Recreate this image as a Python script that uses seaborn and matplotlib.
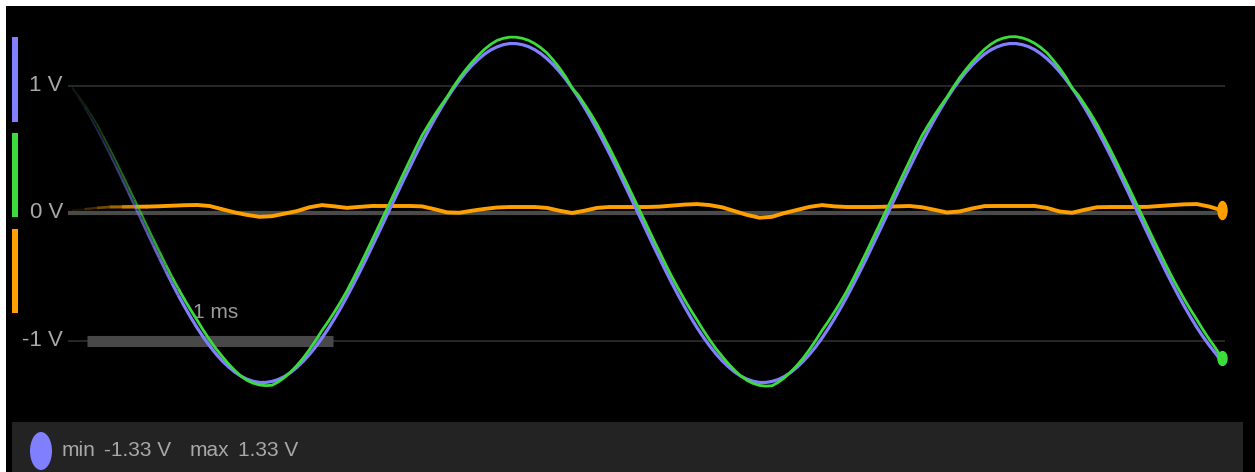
import numpy as np
import matplotlib
matplotlib.use("Agg")
import matplotlib.pyplot as plt
import matplotlib.colors as mcolors
import seaborn as sns
from matplotlib.patches import Rectangle, Ellipse
from matplotlib.collections import LineCollection
from matplotlib.markers import MarkerStyle
from matplotlib.transforms import Affine2D

W, H = 1255, 472

# sample times (ms): fine grid for the two sine channels, coarser for the ripple
t_sine = np.round(np.arange(185) * 0.025, 3)
t_ripple = np.round(np.arange(93) * 0.05, 2)

ch1_blue = [
    0.981, 0.907, 0.828, 0.744, 0.655, 0.562, 0.466, 0.367, 0.265, 0.162,
    0.058, -0.046, -0.151, -0.254, -0.355, -0.455, -0.552, -0.645, -0.734, -0.819,
    -0.899, -0.973, -1.041, -1.103, -1.158, -1.205, -1.246, -1.279, -1.303, -1.320,
    -1.329, -1.329, -1.321, -1.306, -1.282, -1.250, -1.210, -1.163, -1.109, -1.048,
    -0.981, -0.907, -0.828, -0.744, -0.655, -0.562, -0.466, -0.367, -0.265, -0.162,
    -0.058, 0.046, 0.151, 0.254, 0.355, 0.455, 0.552, 0.645, 0.734, 0.819,
    0.899, 0.973, 1.041, 1.103, 1.158, 1.205, 1.246, 1.279, 1.303, 1.320,
    1.329, 1.329, 1.321, 1.306, 1.282, 1.250, 1.210, 1.163, 1.109, 1.048,
    0.981, 0.907, 0.828, 0.744, 0.655, 0.562, 0.466, 0.367, 0.265, 0.162,
    0.058, -0.046, -0.151, -0.254, -0.355, -0.455, -0.552, -0.645, -0.734, -0.819,
    -0.899, -0.973, -1.041, -1.103, -1.158, -1.205, -1.246, -1.279, -1.303, -1.320,
    -1.329, -1.329, -1.321, -1.306, -1.282, -1.250, -1.210, -1.163, -1.109, -1.048,
    -0.981, -0.907, -0.828, -0.744, -0.655, -0.562, -0.466, -0.367, -0.265, -0.162,
    -0.058, 0.046, 0.151, 0.254, 0.355, 0.455, 0.552, 0.645, 0.734, 0.819,
    0.899, 0.973, 1.041, 1.103, 1.158, 1.205, 1.246, 1.279, 1.303, 1.320,
    1.329, 1.329, 1.321, 1.306, 1.282, 1.250, 1.210, 1.163, 1.109, 1.048,
    0.981, 0.907, 0.828, 0.744, 0.655, 0.562, 0.466, 0.367, 0.265, 0.162,
    0.058, -0.046, -0.151, -0.254, -0.355, -0.455, -0.552, -0.645, -0.734, -0.819,
    -0.899, -0.973, -1.041, -1.103, -1.170,
]

ch2_green = [
    0.991, 0.925, 0.853, 0.777, 0.695, 0.603, 0.509, 0.411, 0.310, 0.208,
    0.106, 0.003, -0.101, -0.204, -0.305, -0.405, -0.502, -0.592, -0.679, -0.761,
    -0.839, -0.919, -0.993, -1.062, -1.123, -1.181, -1.233, -1.278, -1.313, -1.335,
    -1.349, -1.354, -1.351, -1.325, -1.290, -1.246, -1.195, -1.137, -1.071, -0.999,
    -0.921, -0.851, -0.775, -0.695, -0.610, -0.516, -0.418, -0.318, -0.215, -0.112,
    -0.008, 0.096, 0.201, 0.305, 0.408, 0.509, 0.607, 0.689, 0.767, 0.840,
    0.909, 0.987, 1.059, 1.124, 1.183, 1.236, 1.284, 1.323, 1.353, 1.370,
    1.379, 1.379, 1.371, 1.355, 1.330, 1.296, 1.255, 1.199, 1.137, 1.067,
    0.981, 0.925, 0.853, 0.777, 0.695, 0.603, 0.509, 0.411, 0.310, 0.208,
    0.106, 0.003, -0.101, -0.204, -0.305, -0.405, -0.502, -0.592, -0.679, -0.761,
    -0.839, -0.919, -0.993, -1.062, -1.123, -1.181, -1.233, -1.278, -1.313, -1.337,
    -1.352, -1.358, -1.355, -1.328, -1.292, -1.247, -1.195, -1.137, -1.071, -0.999,
    -0.921, -0.851, -0.775, -0.695, -0.610, -0.516, -0.418, -0.318, -0.215, -0.112,
    -0.008, 0.096, 0.201, 0.305, 0.408, 0.509, 0.607, 0.689, 0.767, 0.840,
    0.909, 0.987, 1.059, 1.124, 1.183, 1.236, 1.284, 1.323, 1.353, 1.372,
    1.382, 1.383, 1.374, 1.357, 1.332, 1.298, 1.256, 1.199, 1.137, 1.067,
    0.981, 0.925, 0.853, 0.777, 0.695, 0.603, 0.509, 0.411, 0.310, 0.208,
    0.106, 0.003, -0.101, -0.204, -0.305, -0.405, -0.502, -0.592, -0.679, -0.761,
    -0.839, -0.919, -0.993, -1.062, -1.140,
]

ch3_orange = [
    0.020, 0.030, 0.040, 0.047, 0.048, 0.049, 0.050, 0.053, 0.057, 0.061,
    0.063, 0.055, 0.030, 0.005, -0.015, -0.030, -0.025, -0.005, 0.015, 0.045,
    0.062, 0.052, 0.040, 0.048, 0.055, 0.055, 0.055, 0.055, 0.052, 0.030,
    0.005, 0.002, 0.018, 0.032, 0.043, 0.047, 0.047, 0.047, 0.040, 0.018,
    0.000, 0.018, 0.040, 0.047, 0.047, 0.047, 0.047, 0.050, 0.058, 0.066,
    0.070, 0.062, 0.045, 0.015, -0.015, -0.037, -0.030, 0.000, 0.024, 0.048,
    0.062, 0.052, 0.047, 0.047, 0.047, 0.049, 0.052, 0.055, 0.045, 0.025,
    0.004, 0.012, 0.035, 0.054, 0.055, 0.055, 0.055, 0.055, 0.040, 0.012,
    0.002, 0.025, 0.045, 0.047, 0.047, 0.047, 0.048, 0.055, 0.062, 0.068,
    0.070, 0.050, 0.020,
]

grid_volts = [1, 0, -1]
grid_labels = ["1 V", "0 V", "-1 V"]
scale_label = "1 ms"
stats = [("min", 62), ("-1.33 V", 104), ("max", 190), ("1.33 V", 238)]

BLUE = "#8080ff"
GREEN = "#3ddc3d"
ORANGE = "#ffa000"
TXT = "#a8a8a8"

sns.set_theme(style="dark")
plt.rcParams["font.family"] = ["Liberation Sans Narrow", "Liberation Sans", "DejaVu Sans"]

fig = plt.figure(figsize=(W / 100, H / 100), dpi=100)
fig.patch.set_facecolor("white")


def fx(x):
    return x / W


def fy(y):
    return 1 - y / H


def fig_rect(x0, y0, x1, y1, color, z=0):
    fig.patches.append(Rectangle((fx(x0), fy(y1)), fx(x1) - fx(x0), fy(y0) - fy(y1),
                                 transform=fig.transFigure, color=color, zorder=z, lw=0))


# black scope area and side/bottom decorations
fig_rect(6, 6, W, H, "black", -2)
fig_rect(12, 37, 18, 122, BLUE, -1)
fig_rect(12, 133, 18, 217, GREEN, -1)
fig_rect(12, 229, 18, 313, ORANGE, -1)
fig_rect(12, 422, 1243, H, "#232323", -1)
fig.patches.append(Ellipse((fx(41), fy(451)), 22 / W, 38 / H, transform=fig.transFigure,
                           color=BLUE, zorder=-1, lw=0))
for txt, xl in stats:
    fig.text(fx(xl), fy(451), txt, color=TXT, fontsize=15, ha="left", va="center")

# data axes spans the whole figure: x px = 72 + 250*t, y px = 213 - 127.5*V
ax = fig.add_axes([0, 0, 1, 1])
ax.set_zorder(5)
ax.patch.set_visible(False)
ax.set_xlim(-72 / 250, (W - 72) / 250)
ax.set_ylim((213 - H) / 127.5, 213 / 127.5)
ax.axis("off")

for v, lab in zip(grid_volts, grid_labels):
    lw = 3.0 if v == 0 else 1.2
    col = "#4a4a4a" if v == 0 else "#2e2e2e"
    ax.plot([-0.016, 4.612], [v, v], color=col, lw=lw, zorder=1, solid_capstyle="butt")
    ax.text(-0.036, v, lab, color=TXT, fontsize=16, ha="right", va="center")

# 1 ms scale bar
ax.plot([0.06, 1.045], [-1, -1], color="#484848", lw=8, solid_capstyle="butt", zorder=2)
ax.text(0.485, -0.78, scale_label, color="#9a9a9a", fontsize=15, ha="left", va="center")


def draw_trace(t, v, color, lw, fade_to, z):
    t = np.asarray(t)
    v = np.asarray(v)
    n = int(np.searchsorted(t, fade_to))
    pts = np.column_stack([t[:n + 1], v[:n + 1]])
    segs = np.stack([pts[:-1], pts[1:]], axis=1)
    k = np.linspace(0.1, 1.0, len(segs))
    lc = LineCollection(segs, colors=[mcolors.to_rgba(color, a) for a in k],
                        linewidths=lw * (0.45 + 0.55 * k), capstyle="butt", zorder=z)
    ax.add_collection(lc)
    sns.lineplot(x=t[n:], y=v[n:], color=color, lw=lw, sort=False, estimator=None,
                 ax=ax, zorder=z, solid_capstyle="round", solid_joinstyle="round")


draw_trace(t_ripple, ch3_orange, ORANGE, 2.8, 0.3, 3)
draw_trace(t_sine, ch1_blue, BLUE, 2.3, 0.45, 4)
draw_trace(t_sine, ch2_green, GREEN, 2.0, 0.45, 5)

ax.plot(t_sine[-1], ch2_green[-1], linestyle="none", color=GREEN, markersize=10,
        marker=MarkerStyle("o", transform=Affine2D().scale(0.65, 1.0)), zorder=6)
ax.plot(t_ripple[-1], ch3_orange[-1], linestyle="none", color=ORANGE, markersize=13,
        marker=MarkerStyle("o", transform=Affine2D().scale(0.5, 1.0)), zorder=6)

fig.savefig("out.png", dpi=100, facecolor=fig.get_facecolor())
